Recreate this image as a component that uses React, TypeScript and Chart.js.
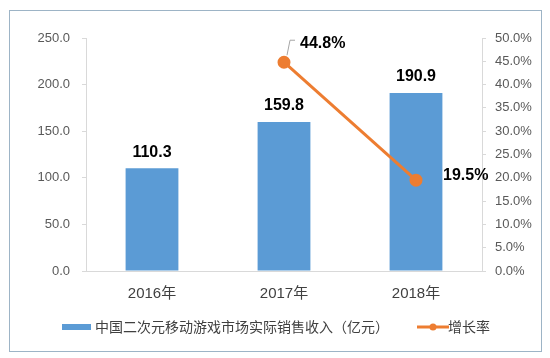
import React, { useEffect, useRef } from "react";
import { Chart, registerables } from "chart.js";

Chart.register(...registerables);

const categories = ["2016年", "2017年", "2018年"];
const revenue = [110.3, 159.8, 190.9];
const growth: (number | null)[] = [null, 44.8, 19.5];
const revenueLabel = "中国二次元移动游戏市场实际销售收入（亿元）";
const growthLabel = "增长率";

const BAR = "#5B9BD5";
const LINE = "#ED7D31";
const NUM_FONT = "'Liberation Sans', 'Noto Sans CJK SC', sans-serif";
const CJK_FONT = "'Noto Sans CJK SC', 'Liberation Sans', sans-serif";

const labelPlugin = {
  id: "customLabels",
  afterDatasetsDraw(chart: any) {
    const ctx = chart.ctx;
    ctx.save();
    // bar labels
    const barMeta = chart.getDatasetMeta(0);
    ctx.font = `bold 16px ${NUM_FONT}`;
    ctx.fillStyle = "#000";
    ctx.textAlign = "center";
    ctx.textBaseline = "middle";
    barMeta.data.forEach((el: any, i: number) => {
      ctx.fillText(revenue[i].toFixed(1), el.x, el.y - 16);
    });
    // line labels
    const lineMeta = chart.getDatasetMeta(1);
    lineMeta.data.forEach((el: any, i: number) => {
      const v = growth[i];
      if (v == null) return;
      const txt = v.toFixed(1) + "%";
      if (i === 1) {
        ctx.strokeStyle = "#A6A6A6";
        ctx.lineWidth = 1;
        ctx.beginPath();
        ctx.moveTo(el.x + 3, el.y - 7);
        ctx.lineTo(el.x + 6, el.y - 22);
        ctx.lineTo(el.x + 11, el.y - 22);
        ctx.stroke();
        ctx.textAlign = "left";
        ctx.fillText(txt, el.x + 16, el.y - 19);
      } else {
        ctx.textAlign = "left";
        ctx.fillText(txt, el.x + 27, el.y - 5);
      }
    });
    ctx.restore();
  },
  afterDraw(chart: any) {
    const ctx = chart.ctx;
    const area = chart.chartArea;
    const y = area.bottom + 56;
    ctx.save();
    // bar legend
    ctx.fillStyle = BAR;
    ctx.fillRect(52, y - 3, 29, 6);
    ctx.font = `14px ${CJK_FONT}`;
    ctx.fillStyle = "#404040";
    ctx.textAlign = "left";
    ctx.textBaseline = "middle";
    ctx.fillText(revenueLabel, 85, y);
    // line legend
    ctx.strokeStyle = LINE;
    ctx.lineWidth = 3;
    ctx.beginPath();
    ctx.moveTo(407, y);
    ctx.lineTo(439, y);
    ctx.stroke();
    ctx.fillStyle = LINE;
    ctx.beginPath();
    ctx.arc(423, y, 3.5, 0, Math.PI * 2);
    ctx.fill();
    ctx.fillStyle = "#404040";
    ctx.fillText(growthLabel, 438, y);
    ctx.restore();
  },
};

export default function App() {
  const ref = useRef<HTMLCanvasElement>(null);
  useEffect(() => {
    if (!ref.current) return;
    const chart = new Chart(ref.current, {
      type: "bar",
      data: {
        labels: categories,
        datasets: [
          {
            type: "bar",
            label: revenueLabel,
            data: revenue,
            backgroundColor: BAR,
            barPercentage: 0.4,
            categoryPercentage: 1,
            yAxisID: "y",
            order: 2,
          },
          {
            type: "line",
            label: growthLabel,
            data: growth,
            borderColor: LINE,
            backgroundColor: LINE,
            borderWidth: 3,
            pointRadius: 5,
            pointBackgroundColor: LINE,
            pointBorderColor: LINE,
            yAxisID: "y1",
            order: 1,
          } as any,
        ],
      },
      options: {
        responsive: false,
        animation: false,
        devicePixelRatio: 1,
        layout: { padding: { top: 27, left: 0, right: 0, bottom: 0 } },
        plugins: {
          legend: { display: false },
          tooltip: { enabled: false },
        },
        scales: {
          x: {
            grid: { drawOnChartArea: false, drawTicks: false, color: "#D9D9D9" },
            border: { color: "#D9D9D9", width: 1 },
            ticks: {
              padding: 14,
              color: "#404040",
              font: { size: 15, family: NUM_FONT },
            },
            afterFit(scale: any) {
              scale.height = 80;
            },
          },
          y: {
            position: "left",
            min: 0,
            max: 250,
            ticks: {
              stepSize: 50,
              padding: 12,
              color: "#595959",
              font: { size: 13, family: NUM_FONT },
              callback: (v: any) => Number(v).toFixed(1),
            },
            grid: { drawOnChartArea: false, drawTicks: true, tickLength: 4, color: "#D9D9D9" },
            border: { color: "#D9D9D9", width: 1 },
            afterFit(scale: any) {
              scale.width = 76;
            },
          },
          y1: {
            position: "right",
            min: 0,
            max: 50,
            ticks: {
              stepSize: 5,
              padding: 9,
              color: "#595959",
              font: { size: 13, family: NUM_FONT },
              callback: (v: any) => Number(v).toFixed(1) + "%",
            },
            grid: { drawOnChartArea: false, drawTicks: true, tickLength: 4, color: "#D9D9D9" },
            border: { color: "#D9D9D9", width: 1 },
            afterFit(scale: any) {
              scale.width = 59;
            },
          },
        },
      },
      plugins: [labelPlugin],
    });
    return () => chart.destroy();
  }, []);

  return (
    <div
      style={{
        position: "absolute",
        left: 9,
        top: 10,
        width: 531,
        height: 340,
        border: "1px solid #9DB4C6",
        background: "#fff",
      }}
    >
      <canvas ref={ref} width={531} height={340} style={{ display: "block" }} />
    </div>
  );
}
